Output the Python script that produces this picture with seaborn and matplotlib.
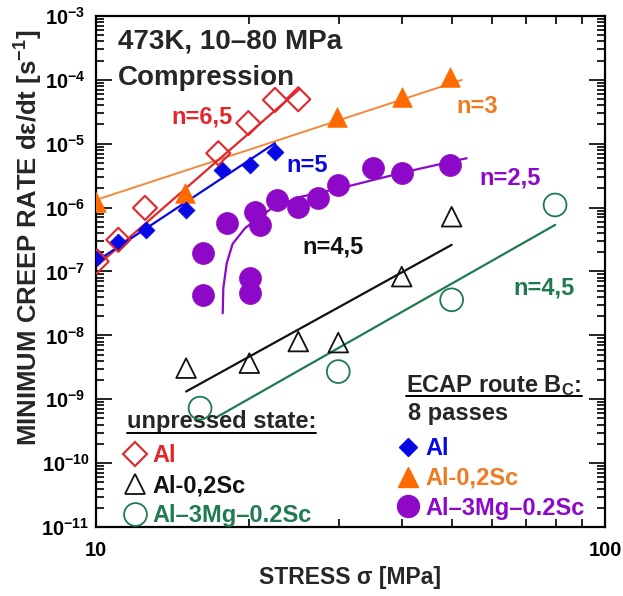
import numpy as np
import matplotlib
matplotlib.use("Agg")
import matplotlib.pyplot as plt
import seaborn as sns
from matplotlib.lines import Line2D
from matplotlib.ticker import LogLocator, FixedLocator, FuncFormatter, NullFormatter

# ---------------- data ----------------
# unpressed state
al_un_stress = [10.03, 11.06, 12.48, 17.39, 19.92, 22.47, 24.97]
al_un_rate = [1.43e-7, 3.13e-7, 9.9e-7, 7.1e-6, 2.1e-5, 4.85e-5, 4.97e-5]
alsc_un_stress = [15.03, 20.01, 24.97, 29.92, 39.87, 49.97]
alsc_un_rate = [3.07e-9, 3.67e-9, 8.0e-9, 7.7e-9, 8.3e-8, 7.2e-7]
almg_un_stress = [16.01, 29.92, 49.97, 79.78]
almg_un_rate = [7.26e-10, 2.71e-9, 3.6e-8, 1.1e-6]

# ECAP route Bc, 8 passes
al_ecap_stress = [10.03, 11.06, 12.55, 15.0, 17.65, 20.07, 22.47]
al_ecap_rate = [1.71e-7, 2.94e-7, 4.48e-7, 9.2e-7, 3.9e-6, 4.66e-6, 7.5e-6]
alsc_ecap_stress = [10.0, 14.96, 29.8, 39.87, 49.6]
alsc_ecap_rate = [1.24e-6, 1.68e-6, 2.58e-5, 5.46e-5, 1.12e-4]
almg_ecap_stress = [16.25, 16.25, 18.06, 20.53, 21.0, 20.07, 20.07, 22.65,
                    24.97, 27.34, 29.92, 35.06, 39.87, 49.6]
almg_ecap_rate = [1.93e-7, 4.30e-8, 5.70e-7, 8.65e-7, 5.36e-7, 7.85e-8, 4.58e-8,
                  1.32e-6, 1.04e-6, 1.40e-6, 2.26e-6, 4.14e-6, 3.45e-6, 4.66e-6]

# fit lines (end points)
fit_al_un_x, fit_al_un_y = [10.0, 25.1], [1.19e-7, 7.13e-5]
fit_al_ecap_x, fit_al_ecap_y = [10.0, 22.47], [1.43e-7, 1.02e-5]
fit_alsc_ecap_x, fit_alsc_ecap_y = [10.0, 52.3], [1.32e-6, 9.96e-5]
fit_alsc_un_x, fit_alsc_un_y = [15.03, 49.97], [1.32e-9, 2.61e-7]
fit_almg_un_x, fit_almg_un_y = [17.13, 79.8], [5.06e-10, 5.36e-7]
# threshold-type curve for Al-3Mg-0.2Sc ECAP
fit_almg_ecap_x = [17.74, 17.79, 18.07, 18.55, 19.62, 22.0, 25.0, 31.08, 40.77, 53.5]
fit_almg_ecap_y = [2.22e-8, 5.53e-8, 1.36e-7, 2.70e-7, 4.76e-7, 9.4e-7, 1.45e-6,
                   2.13e-6, 3.66e-6, 5.93e-6]

n_labels = ["n=6,5", "n=5", "n=3", "n=2,5", "n=4,5", "n=4,5"]
y_ticks = [1e-11, 1e-10, 1e-9, 1e-8, 1e-7, 1e-6, 1e-5, 1e-4, 1e-3]
x_ticks = [10, 100]

# ---------------- style ----------------
sns.set_theme(style="ticks")
plt.rcParams["font.family"] = ["Liberation Sans", "DejaVu Sans"]
plt.rcParams["font.weight"] = "bold"
plt.rcParams["mathtext.fontset"] = "custom"
plt.rcParams["mathtext.rm"] = "Liberation Sans:bold"
plt.rcParams["mathtext.bf"] = "Liberation Sans:bold"
plt.rcParams["mathtext.it"] = "Liberation Sans:bold:italic"
plt.rcParams["mathtext.default"] = "bf"

RED = "#e3262b"
BLUE = "#0808e4"
ORANGE_M = "#ff6a00"
ORANGE_L = "#f28a3c"
ORANGE_T = "#f07a22"
PURPLE = "#8e08c8"
GREEN = "#1f7a4f"
BLACK = "#111111"

fig = plt.figure(figsize=(6.23, 5.96), dpi=100)
ax = fig.add_axes([0.1541, 0.1158, 0.817, 0.8574])
ax.set_xscale("log")
ax.set_yscale("log")

# fit lines
line_kw = dict(ax=ax, sort=False, estimator=None, linewidth=1.6, zorder=2)
sns.lineplot(x=fit_alsc_ecap_x, y=fit_alsc_ecap_y, color=ORANGE_L,
             **{**line_kw, "linewidth": 1.4})
sns.lineplot(x=fit_al_un_x, y=fit_al_un_y, color=RED, **line_kw)
sns.lineplot(x=fit_al_ecap_x, y=fit_al_ecap_y, color=BLUE, **line_kw)
sns.lineplot(x=fit_almg_ecap_x, y=fit_almg_ecap_y, color=PURPLE, **line_kw)
sns.lineplot(x=fit_alsc_un_x, y=fit_alsc_un_y, color=BLACK, **line_kw)
sns.lineplot(x=fit_almg_un_x, y=fit_almg_un_y, color=GREEN, **line_kw)

# markers
S_AL_UN, S_TRI, S_CIRC_O, S_AL_E, S_CIRC_F = 150, 200, 270, 75, 250
sns.scatterplot(x=almg_ecap_stress, y=almg_ecap_rate, marker="o", s=S_CIRC_F,
                color=PURPLE, edgecolor=PURPLE, linewidth=0.5, ax=ax, zorder=3)
sns.scatterplot(x=alsc_ecap_stress, y=alsc_ecap_rate, marker="^", s=S_TRI,
                color=ORANGE_M, edgecolor=ORANGE_M, linewidth=0.5, ax=ax, zorder=3)
sns.scatterplot(x=al_ecap_stress, y=al_ecap_rate, marker="D", s=S_AL_E,
                color=BLUE, edgecolor=BLUE, linewidth=0.5, ax=ax, zorder=4)
sns.scatterplot(x=al_un_stress, y=al_un_rate, marker="D", s=S_AL_UN,
                facecolor="none", edgecolor=RED, linewidth=1.5, ax=ax, zorder=4)
sns.scatterplot(x=alsc_un_stress, y=alsc_un_rate, marker="^", s=S_TRI,
                facecolor="none", edgecolor=BLACK, linewidth=1.3, ax=ax, zorder=4)
sns.scatterplot(x=almg_un_stress, y=almg_un_rate, marker="o", s=S_CIRC_O,
                facecolor="none", edgecolor=GREEN, linewidth=1.3, ax=ax, zorder=4)

# axes
ax.set_xlim(10, 100)
ax.set_ylim(1e-11, 1e-3)
ax.xaxis.set_major_locator(FixedLocator(x_ticks))
ax.xaxis.set_minor_locator(LogLocator(base=10, subs=np.arange(2, 10), numticks=50))
ax.xaxis.set_minor_formatter(NullFormatter())
ax.xaxis.set_major_formatter(FuncFormatter(lambda v, p: f"{v:.0f}"))
ax.yaxis.set_major_locator(FixedLocator(y_ticks))
ax.yaxis.set_minor_locator(LogLocator(base=10, subs=np.arange(2, 10), numticks=100))
ax.yaxis.set_minor_formatter(NullFormatter())
ax.yaxis.set_major_formatter(
    FuncFormatter(lambda v, p: rf"$10^{{{int(round(np.log10(v)))}}}$"))

for sp in ax.spines.values():
    sp.set_linewidth(1.6)
    sp.set_color("black")
ax.tick_params(which="both", direction="in", top=True, right=True,
               width=1.2, color="black", labelcolor="black")
ax.tick_params(axis="y", which="major", length=11.5, labelsize=14.5, pad=22)
ax.tick_params(axis="x", which="major", length=11.5, labelsize=14.5, pad=10)
ax.tick_params(which="minor", length=6)
for lbl in ax.get_yticklabels():
    lbl.set_horizontalalignment("center")

ax.set_xlabel(r"STRESS σ [MPa]", fontsize=16.5, fontweight="bold")
ax.xaxis.set_label_coords(0.499, -0.077)
ax.set_ylabel(r"MINIMUM CREEP RATE dε/dt [s$^{-1}$]", fontsize=18.5, fontweight="bold")
ax.yaxis.label.set_verticalalignment("center")
ax.yaxis.set_label_coords(-0.131, 0.566)

# header text
ax.text(0.043, 0.951, "473K, 10–80 MPa", transform=ax.transAxes, fontsize=20,
        fontweight="bold", va="center", ha="left")
ax.text(0.043, 0.878, "Compression", transform=ax.transAxes, fontsize=20,
        fontweight="bold", va="center", ha="left")

# slope labels
n_pos = [(0.208, 0.802), (0.4145, 0.7065), (0.7485, 0.822),
         (0.813, 0.683), (0.4656, 0.548), (0.880, 0.468)]
n_col = [RED, BLUE, ORANGE_T, PURPLE, BLACK, GREEN]
for lab, (xx, yy), c in zip(n_labels, n_pos, n_col):
    ax.text(xx, yy, lab, transform=ax.transAxes, fontsize=17, fontweight="bold",
            color=c, ha="center", va="center")

# legends
leg_kw = dict(loc="upper left", frameon=False, borderpad=0, borderaxespad=0,
              handlelength=1.0, handletextpad=0.22, labelspacing=0.29,
              numpoints=1, prop={"size": 17, "weight": "bold"})
h_un = [Line2D([], [], ls="", marker="D", ms=np.sqrt(S_AL_UN), mfc="none", mec=RED, mew=1.5),
        Line2D([], [], ls="", marker="^", ms=np.sqrt(S_TRI), mfc="none", mec=BLACK, mew=1.3),
        Line2D([], [], ls="", marker="o", ms=np.sqrt(S_CIRC_O), mfc="none", mec=GREEN, mew=1.3)]
leg1 = ax.legend(h_un, ["Al", "Al-0,2Sc", "Al–3Mg–0.2Sc"],
                 bbox_to_anchor=(0.0534, 0.162), **leg_kw)
for t, c in zip(leg1.get_texts(), [RED, BLACK, GREEN]):
    t.set_color(c)
ax.add_artist(leg1)

h_ec = [Line2D([], [], ls="", marker="D", ms=np.sqrt(S_AL_E), mfc=BLUE, mec=BLUE),
        Line2D([], [], ls="", marker="^", ms=np.sqrt(S_TRI), mfc=ORANGE_M, mec=ORANGE_M),
        Line2D([], [], ls="", marker="o", ms=np.sqrt(S_CIRC_F), mfc=PURPLE, mec=PURPLE)]
leg2 = ax.legend(h_ec, ["Al", "Al-0,2Sc", "Al–3Mg–0.2Sc"],
                 bbox_to_anchor=(0.5903, 0.176), **leg_kw)
for t, c in zip(leg2.get_texts(), [BLUE, ORANGE_T, PURPLE]):
    t.set_color(c)

t_un = ax.text(0.0609, 0.1937, "unpressed state:", transform=ax.transAxes,
               fontsize=17, fontweight="bold", va="baseline", ha="left")
t_ec = ax.text(0.610, 0.2642, r"ECAP route B$_{C}$:", transform=ax.transAxes,
               fontsize=17, fontweight="bold", va="baseline", ha="left")
ax.text(0.613, 0.2094, "8 passes", transform=ax.transAxes,
        fontsize=17, fontweight="bold", va="baseline", ha="left")

# underline the two legend headings
fig.canvas.draw()
rend = fig.canvas.get_renderer()
inv = fig.transFigure.inverted()
for t in (t_un, t_ec):
    bb = t.get_window_extent(rend)
    ybase = ax.transAxes.transform(t.get_position())[1] - 4.5
    (x0, y0), (x1, _) = inv.transform([(bb.x0, ybase), (bb.x1, ybase)])
    fig.add_artist(Line2D([x0, x1], [y0, y0], transform=fig.transFigure,
                          color="black", linewidth=1.4))

fig.savefig("out.png", dpi=100)
